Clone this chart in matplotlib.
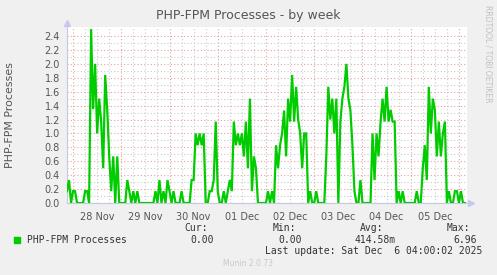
import numpy as np
import pandas as pd
import matplotlib
matplotlib.use("Agg")
import matplotlib.pyplot as plt
import matplotlib.dates as mdates

# hourly samples starting 27 Nov 21:00
start = "2025-11-27 21:00"
end = "2025-12-06 04:00"
procs = [
    0.17, 0.33, 0.0, 0.17, 0.17, 0.0, 0.0, 0.0, 0.0, 0.17,
    0.17, 0.0, 2.5, 1.35, 2.0, 1.0, 1.5, 1.17, 0.5, 1.84,
    1.35, 0.67, 0.17, 0.67, 0.0, 0.67, 0.0, 0.0, 0.0, 0.0,
    0.33, 0.17, 0.0, 0.17, 0.0, 0.17, 0.0, 0.0, 0.0, 0.0,
    0.0, 0.0, 0.0, 0.0, 0.17, 0.0, 0.33, 0.0, 0.17, 0.0,
    0.33, 0.17, 0.0, 0.17, 0.0, 0.0, 0.0, 0.17, 0.0, 0.0,
    0.0, 0.0, 0.33, 0.33, 1.0, 0.83, 1.0, 0.83, 1.0, 0.0,
    0.0, 0.17, 0.17, 0.33, 1.17, 0.17, 0.0, 0.0, 0.17, 0.0,
    0.17, 0.33, 0.17, 1.17, 0.83, 1.0, 0.83, 1.0, 0.67, 1.17,
    0.5, 1.5, 0.17, 0.67, 0.5, 0.0, 0.0, 0.0, 0.0, 0.0,
    0.17, 0.0, 0.17, 0.0, 0.83, 0.5, 0.83, 1.0, 1.33, 0.67,
    1.5, 1.17, 1.84, 1.17, 1.67, 1.2, 1.0, 0.5, 1.0, 1.0,
    0.0, 0.17, 0.0, 0.0, 0.17, 0.0, 0.0, 0.0, 0.0, 0.67,
    1.67, 1.2, 1.5, 1.0, 1.5, 0.0, 1.17, 1.5, 1.67, 2.0,
    1.5, 1.33, 0.83, 0.17, 0.0, 0.0, 0.33, 0.0, 0.0, 0.0,
    0.0, 0.0, 1.0, 0.33, 1.0, 0.67, 1.17, 1.5, 1.17, 1.67,
    1.17, 1.34, 1.17, 1.17, 0.0, 0.17, 0.0, 0.17, 0.0, 0.0,
    0.0, 0.0, 0.0, 0.0, 0.17, 0.0, 0.0, 0.5, 0.83, 0.33,
    1.67, 1.0, 1.5, 1.34, 0.67, 1.17, 0.67, 1.0, 1.17, 0.0,
    0.17, 0.0, 0.0, 0.17, 0.17, 0.0, 0.17, 0.0, 0.0,
]
day_labels = ["28 Nov", "29 Nov", "30 Nov", "01 Dec", "02 Dec", "03 Dec", "04 Dec", "05 Dec"]
label_days = pd.date_range("2025-11-28 12:00", periods=len(day_labels), freq="D")
y_ticks = [0.0, 0.2, 0.4, 0.6, 0.8, 1.0, 1.2, 1.4, 1.6, 1.8, 2.0, 2.2, 2.4]

times = pd.date_range(start, periods=len(procs), freq="h")

W, H = 497, 275
fig = plt.figure(figsize=(W / 100, H / 100), dpi=100, facecolor="#f0f0f0")
ax = fig.add_axes([67 / W, 1 - 203 / H, 400 / W, 176 / H], facecolor="white")

ax.plot(times, procs, color="#00cc00", lw=1.6, zorder=3, solid_joinstyle="miter")

ax.set_xlim(pd.Timestamp(start), pd.Timestamp(end))
ax.set_ylim(0, 2.53)

# grid: gray every 6h / 0.1, red at midnight / 0.2
ax.xaxis.set_major_locator(mdates.DayLocator())
ax.xaxis.set_minor_locator(mdates.HourLocator(byhour=[6, 12, 18]))
ax.set_yticks(y_ticks)
ax.set_yticks(np.arange(0.1, 2.5, 0.2), minor=True)
ax.grid(which="minor", color="#cccccc", ls=(0, (1, 2)), lw=0.8)
ax.grid(which="major", color="#e8a0a0", ls=(0, (1, 2)), lw=0.8)
ax.set_axisbelow(True)
ax.tick_params(which="both", length=0)
ax.set_xticklabels([])
ax.set_yticklabels([f"{v:.1f}" for v in y_ticks], fontsize=7, color="#555555")
ax.tick_params(axis="y", pad=5)
for d, lab in zip(label_days, day_labels):
    ax.text(d, -0.05, lab, transform=ax.get_xaxis_transform(), ha="center", va="top",
            fontsize=7, color="#555555")

for s in ["top", "right"]:
    ax.spines[s].set_visible(False)
ax.spines["left"].set_color("#c8c8e6")
ax.spines["bottom"].set_color("#c8c8e6")
ax.spines["left"].set_linewidth(0.8)
ax.spines["bottom"].set_linewidth(0.8)
ax.plot([1.01], [0], ">", color="#c8c8f0", ms=4, transform=ax.transAxes, clip_on=False)
ax.plot([0], [1.02], "^", color="#c8c8f0", ms=4, transform=ax.transAxes, clip_on=False)

fig.text(248 / W, 1 - 15 / H, "PHP-FPM Processes - by week", ha="center", va="center",
         fontsize=9, color="#555555")
fig.text(10 / W, 1 - 115 / H, "PHP-FPM Processes", rotation=90, ha="center", va="center",
         fontsize=7.9, color="#555555")
fig.text(488 / W, 1 - 5 / H, "RRDTOOL / TOBI OETIKER", rotation=270, ha="center", va="top",
         fontsize=5.5, color="#c0c0c0")

mono = dict(family="DejaVu Sans Mono", fontsize=7, color="#333333", va="center")
fig.patches.append(plt.Rectangle((14 / W, 1 - 243 / H), 6 / W, 6 / H, transform=fig.transFigure,
                                 color="#00cc00"))
fig.text(27 / W, 1 - 240 / H, "PHP-FPM Processes", **mono)
fig.text(208 / W, 1 - 228 / H, "Cur:", ha="right", **mono)
fig.text(214 / W, 1 - 240 / H, "0.00", ha="right", **mono)
fig.text(296 / W, 1 - 228 / H, "Min:", ha="right", **mono)
fig.text(302 / W, 1 - 240 / H, "0.00", ha="right", **mono)
fig.text(383 / W, 1 - 228 / H, "Avg:", ha="right", **mono)
fig.text(396 / W, 1 - 240 / H, "414.58m", ha="right", **mono)
fig.text(470 / W, 1 - 228 / H, "Max:", ha="right", **mono)
fig.text(477 / W, 1 - 240 / H, "6.96", ha="right", **mono)
fig.text(482 / W, 1 - 251 / H, "Last update: Sat Dec  6 04:00:02 2025", ha="right", **mono)
fig.text(248 / W, 1 - 264 / H, "Munin 2.0.73", ha="center", va="center",
         fontsize=5.5, color="#c8c8c8")

fig.savefig("out.png", dpi=100, facecolor=fig.get_facecolor())
